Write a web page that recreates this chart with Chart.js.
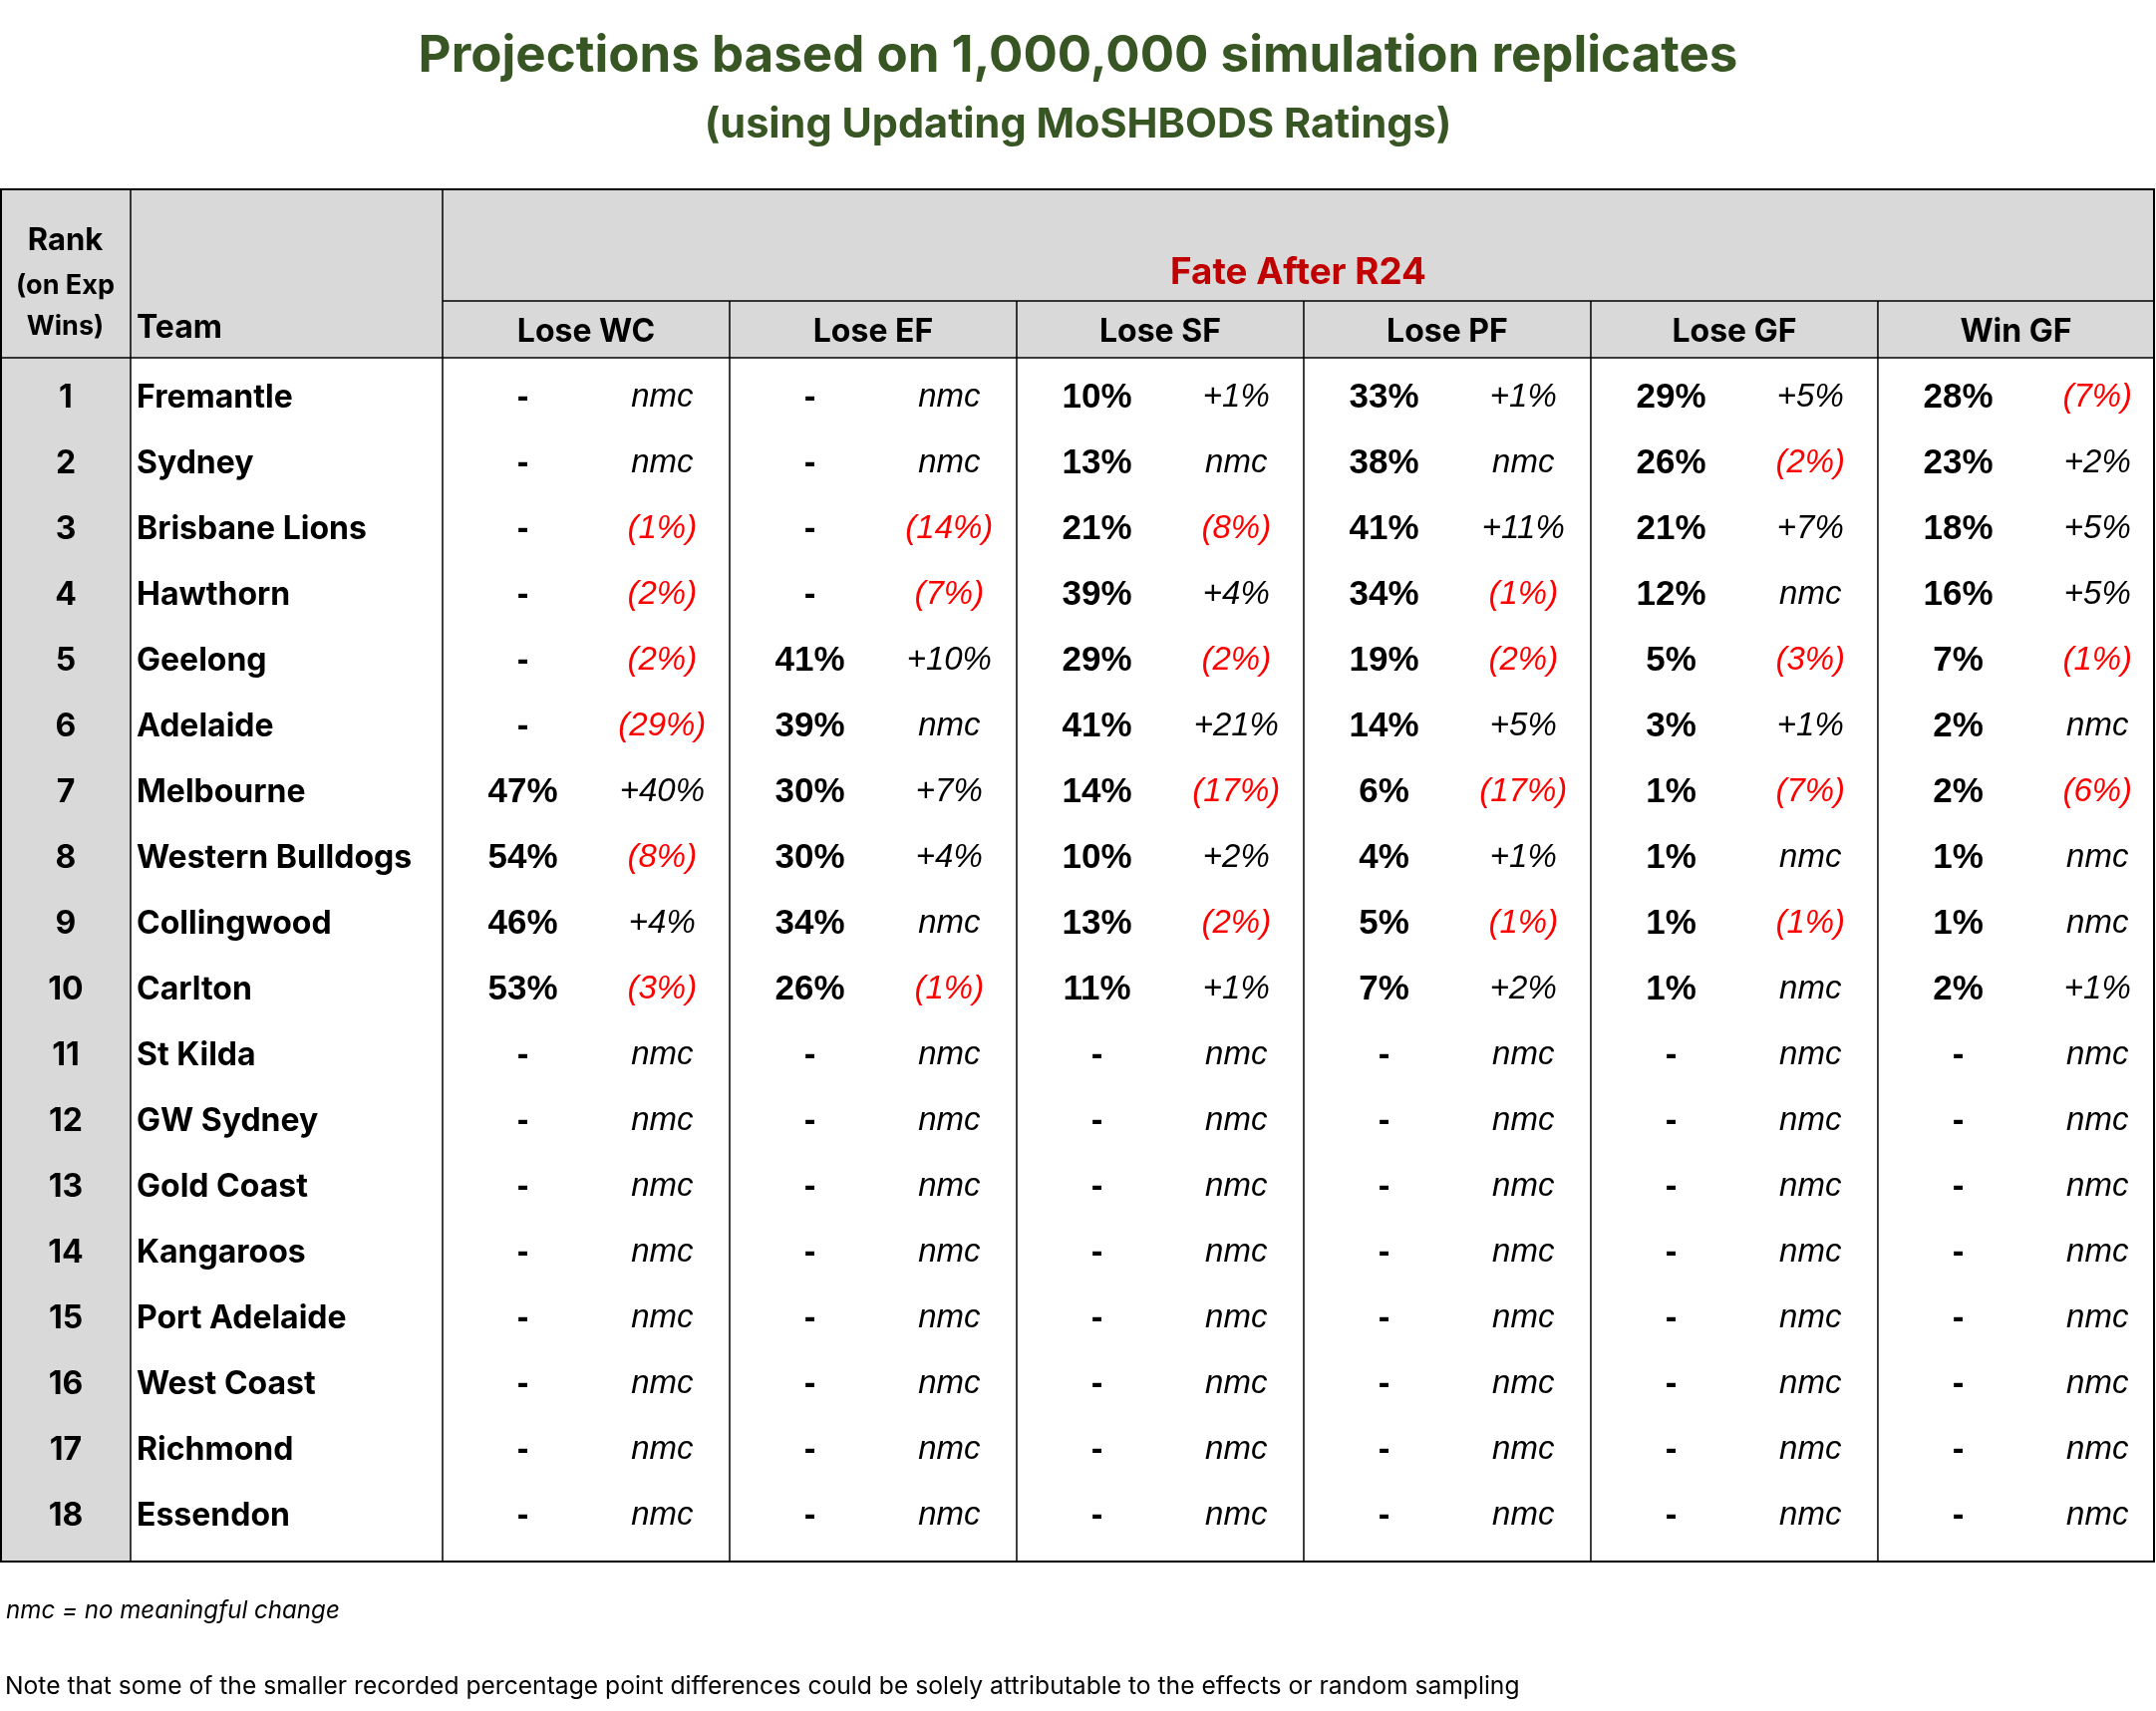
<!DOCTYPE html>
<html>
<head>
<meta charset="utf-8">
<script src="https://cdn.jsdelivr.net/npm/chart.js@4.4.1/dist/chart.umd.min.js"></script>
<style>
  body { margin: 0; background: #fff; }
  canvas { display: block; }
</style>
</head>
<body>
<canvas id="myChart" width="2163" height="1717"></canvas>
<script>
// ---- data ----
var ranks = [1, 2, 3, 4, 5, 6, 7, 8, 9, 10, 11, 12, 13, 14, 15, 16, 17, 18];
var teams = ["Fremantle", "Sydney", "Brisbane Lions", "Hawthorn", "Geelong", "Adelaide",
  "Melbourne", "Western Bulldogs", "Collingwood", "Carlton", "St Kilda", "GW Sydney",
  "Gold Coast", "Kangaroos", "Port Adelaide", "West Coast", "Richmond", "Essendon"];
var stages = ["Lose WC", "Lose EF", "Lose SF", "Lose PF", "Lose GF", "Win GF"];

// chance of each fate in % (null = "-"), and change in percentage points (0 = nmc)
var loseWC       = [null, null, null, null, null, null, 47, 54, 46, 53, null, null, null, null, null, null, null, null];
var loseWCChange = [0, 0, -1, -2, -2, -29, 40, -8, 4, -3, 0, 0, 0, 0, 0, 0, 0, 0];
var loseEF       = [null, null, null, null, 41, 39, 30, 30, 34, 26, null, null, null, null, null, null, null, null];
var loseEFChange = [0, 0, -14, -7, 10, 0, 7, 4, 0, -1, 0, 0, 0, 0, 0, 0, 0, 0];
var loseSF       = [10, 13, 21, 39, 29, 41, 14, 10, 13, 11, null, null, null, null, null, null, null, null];
var loseSFChange = [1, 0, -8, 4, -2, 21, -17, 2, -2, 1, 0, 0, 0, 0, 0, 0, 0, 0];
var losePF       = [33, 38, 41, 34, 19, 14, 6, 4, 5, 7, null, null, null, null, null, null, null, null];
var losePFChange = [1, 0, 11, -1, -2, 5, -17, 1, -1, 2, 0, 0, 0, 0, 0, 0, 0, 0];
var loseGF       = [29, 26, 21, 12, 5, 3, 1, 1, 1, 1, null, null, null, null, null, null, null, null];
var loseGFChange = [5, -2, 7, 0, -3, 1, -7, 0, -1, 0, 0, 0, 0, 0, 0, 0, 0, 0];
var winGF        = [28, 23, 18, 16, 7, 2, 2, 1, 1, 2, null, null, null, null, null, null, null, null];
var winGFChange  = [-7, 2, 5, 5, -1, 0, -6, 0, 0, 1, 0, 0, 0, 0, 0, 0, 0, 0];

var chartTitle = "Projections based on 1,000,000 simulation replicates";
var chartSubtitle = "(using Updating MoSHBODS Ratings)";
var groupTitle = "Fate After R24";
var notes = ["nmc = no meaningful change",
  "Note that some of the smaller recorded percentage point differences could be solely attributable to the effects or random sampling"];

var values = [loseWC, loseEF, loseSF, losePF, loseGF, winGF];
var changes = [loseWCChange, loseEFChange, loseSFChange, losePFChange, loseGFChange, winGFChange];

var APTOS = "Inter, 'Noto Sans', sans-serif";
var ARIAL = "'Liberation Sans', Arial, sans-serif";
var GREEN = "#375623";

function fmtValue(v) { return v === null ? "-" : v + "%"; }
function fmtChange(c) {
  if (c === 0) return "nmc";
  return c > 0 ? "+" + c + "%" : "(" + (-c) + "%)";
}
function fitSize(ctx, text, font, width) {
  ctx.font = font.replace("SIZE", "100px");
  return 100 * width / ctx.measureText(text).width;
}

var datasets = [];
values.forEach(function(col, g) {
  datasets.push({
    label: stages[g],
    data: teams.map(function(t) { return { x: g + 0.28, y: t }; }),
    texts: col.map(fmtValue),
    colors: col.map(function() { return "#000"; }),
    font: "bold 35px " + ARIAL
  });
  datasets.push({
    label: stages[g] + " change",
    data: teams.map(function(t) { return { x: g + 0.765, y: t }; }),
    texts: changes[g].map(fmtChange),
    colors: changes[g].map(function(c) { return c < 0 ? "#ff0000" : "#000"; }),
    font: "italic 33px " + ARIAL
  });
});

var tablePlugin = {
  id: 'tableCells',
  beforeDraw: function(chart) {
    var ctx = chart.ctx, area = chart.chartArea;
    var x = chart.scales.x;
    var W = chart.width;
    var top = 190, fateLine = 302, headBottom = 359;
    var bottom = area.bottom + 14;
    var rankRight = 131, teamRight = area.left;

    ctx.save();
    ctx.fillStyle = "#fff";
    ctx.fillRect(0, 0, W, chart.height);
    // gray header band and rank column
    ctx.fillStyle = "#d9d9d9";
    ctx.fillRect(0, top, area.right, headBottom - top);
    ctx.fillRect(0, top, rankRight, bottom - top);

    // grid lines
    ctx.strokeStyle = "#000";
    ctx.lineWidth = 1.5;
    ctx.beginPath();
    ctx.moveTo(rankRight, top); ctx.lineTo(rankRight, bottom);
    ctx.moveTo(teamRight, top); ctx.lineTo(teamRight, bottom);
    ctx.moveTo(teamRight, fateLine); ctx.lineTo(area.right, fateLine);
    ctx.moveTo(0, headBottom); ctx.lineTo(area.right, headBottom);
    for (var g = 1; g < stages.length; g++) {
      var gx = x.getPixelForValue(g);
      ctx.moveTo(gx, fateLine); ctx.lineTo(gx, bottom);
    }
    ctx.stroke();
    ctx.lineWidth = 2;
    ctx.strokeRect(1, top, area.right - 1, bottom - top);

    // titles
    ctx.textAlign = "center";
    ctx.textBaseline = "middle";
    ctx.fillStyle = GREEN;
    var f = "bold SIZE " + APTOS;
    ctx.font = f.replace("SIZE", fitSize(ctx, chartTitle, f, 1324) + "px");
    ctx.fillText(chartTitle, W / 2, 57);
    ctx.font = f.replace("SIZE", fitSize(ctx, chartSubtitle, f, 750) + "px");
    ctx.fillText(chartSubtitle, W / 2, 126);

    // header texts
    ctx.fillStyle = "#c00000";
    ctx.font = f.replace("SIZE", fitSize(ctx, groupTitle, f, 257) + "px");
    ctx.fillText(groupTitle, (area.left + area.right) / 2, 274);

    ctx.fillStyle = "#000";
    ctx.font = "bold 32px " + APTOS;
    stages.forEach(function(s, i) {
      var cx = (x.getPixelForValue(i) + Math.min(x.getPixelForValue(i + 1), area.right)) / 2;
      ctx.fillText(s, cx, 333);
    });
    ctx.font = "bold 31px " + APTOS;
    ctx.fillText("Rank", rankRight / 2, 242);
    ctx.font = "bold 27px " + APTOS;
    ctx.fillText("(on Exp", rankRight / 2, 287);
    ctx.fillText("Wins)", rankRight / 2, 328);
    ctx.textAlign = "left";
    ctx.font = "bold 32px " + APTOS;
    ctx.fillText("Team", rankRight + 6, 329);

    // footnotes
    ctx.fillStyle = "#000";
    var nf = "italic 400 SIZE " + APTOS;
    ctx.font = nf.replace("SIZE", fitSize(ctx, notes[0], nf, 335) + "px");
    ctx.fillText(notes[0], 6, 1617);
    nf = "400 SIZE " + APTOS;
    ctx.font = nf.replace("SIZE", fitSize(ctx, notes[1], nf, 1520) + "px");
    ctx.fillText(notes[1], 5, 1693);
    ctx.restore();
  },
  afterDatasetsDraw: function(chart) {
    var ctx = chart.ctx, y = chart.scales.y;
    ctx.save();
    ctx.textBaseline = "middle";
    ctx.fillStyle = "#000";
    // rank and team columns
    ctx.font = "bold 32px " + APTOS;
    teams.forEach(function(t, i) {
      var py = y.getPixelForValue(i) + 1;
      ctx.textAlign = "center";
      ctx.fillText(ranks[i], 66, py);
      ctx.textAlign = "left";
      ctx.fillText(t, 137, py);
    });
    // value cells at the points placed by the scales
    ctx.textAlign = "center";
    chart.data.datasets.forEach(function(ds, d) {
      var meta = chart.getDatasetMeta(d);
      ctx.font = ds.font;
      meta.data.forEach(function(pt, i) {
        ctx.fillStyle = ds.colors[i];
        ctx.fillText(ds.texts[i], pt.x, pt.y + 1);
      });
    });
    ctx.restore();
  }
};

var ctx = document.getElementById("myChart");
var myChart = new Chart(ctx, {
  type: 'scatter',
  data: { datasets: datasets },
  options: {
    responsive: false,
    animation: false,
    devicePixelRatio: 1,
    layout: { padding: { left: 444, right: 2, top: 365, bottom: 164 } },
    elements: { point: { radius: 0, hoverRadius: 0 } },
    plugins: {
      legend: { display: false },
      tooltip: { enabled: false },
      title: { display: false }
    },
    scales: {
      x: { type: 'linear', min: 0, max: 5.962, display: false },
      y: { type: 'category', labels: teams, offset: true, display: false }
    }
  },
  plugins: [tablePlugin]
});
</script>
</body>
</html>
